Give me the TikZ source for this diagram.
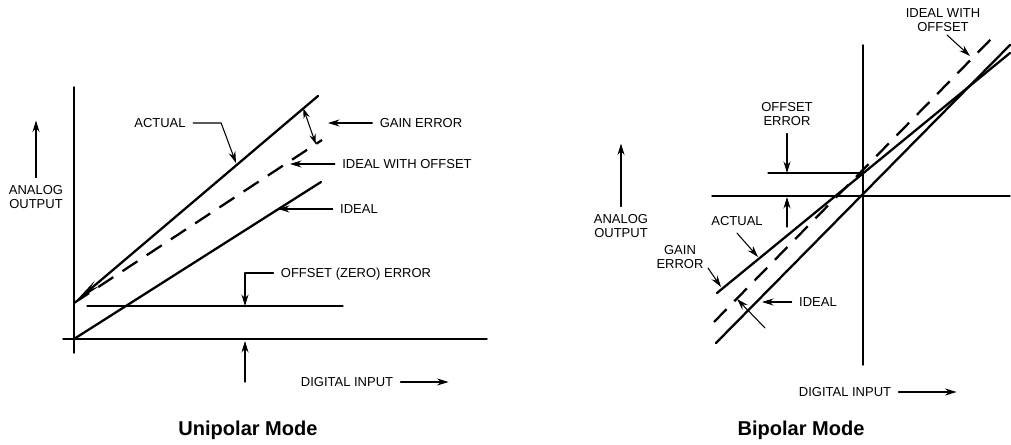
\documentclass[tikz,border=0pt]{standalone}
\usepackage{fontspec}
\setmainfont{Liberation Sans}
\usetikzlibrary{arrows.meta,calc}

\begin{document}
\begin{tikzpicture}[x=0.02cm,y=-0.02cm,line cap=round,line join=round,
  axis/.style={line width=0.8pt},
  curve/.style={line width=1.3pt},
  dashline/.style={line width=1.3pt,line cap=butt,dash pattern=on 0.36cm off 0.22cm},
  ptr/.style={line width=0.6pt,-{Stealth[length=2.3mm,width=1.4mm]}},
  dptr/.style={line width=0.6pt,{Stealth[length=2mm,width=1.3mm]}-{Stealth[length=2mm,width=1.3mm]}},
  lbl/.style={font=\fontsize{7.4}{8.4}\selectfont,inner sep=0pt,outer sep=0.15cm,align=center},
  title/.style={font=\bfseries\fontsize{11.4}{13}\selectfont}]
  \useasboundingbox (0,0) rectangle (1011,445);
  % unipolar mode
  \coordinate (uO) at (74,339); \coordinate (uT) at (74,87); \coordinate (uB) at (74,353);
  \coordinate (uL) at (63,339); \coordinate (uR) at (487,339);
  \coordinate (uA0) at (74,303); \coordinate (uA1) at (318,96);
  \coordinate (uD1) at (322,140); \coordinate (uI1) at (321,182);
  \coordinate (uZ0) at (87,306); \coordinate (uZ1) at (343,306);
  \draw[axis] (uT)--(uB); \draw[axis] (uL)--(uR); \draw[line width=0.6pt] (uZ0)--(uZ1);
  \draw[curve,{Stealth[length=0.6cm,width=0.14cm]}-] (uA0)--(uA1);
  \draw[dashline] (uA0)--(uD1); \draw[curve] (uO)--(uI1);
  \node[lbl] (uact) at (160,123) {ACTUAL};
  \node[lbl] (ugain) at (421,123) {GAIN ERROR};
  \node[lbl] (uiwo) at (407,164) {IDEAL WITH OFFSET};
  \node[lbl] (uid) at (359,209) {IDEAL};
  \node[lbl,text depth=0pt] (uzero) at (356,273) {OFFSET (ZERO) ERROR};
  \node[lbl] (uout) at (36,197) {ANALOG\\OUTPUT};
  \node[lbl] (uin) at (347,382) {DIGITAL INPUT};
  \node[title] (utitle) at (248,430) {Unipolar Mode};
  \coordinate (uActTip) at (236,163); \coordinate (uGainTip) at (328,123);
  \coordinate (uG0) at ($(uA0)!0.94!(uA1)$); \coordinate (uG1) at ($(uA0)!0.975!(uD1)$);
  \coordinate (uIwoTip) at (290,164); \coordinate (uIdTip) at (278,209);
  \coordinate (uZTip) at (245,306); \coordinate (uUp) at (245,382); \coordinate (uUpTip) at (245,341);
  \draw[ptr] (uact.east) -- ++(28,0) -- (uActTip); \draw[ptr] (ugain.west) -- (uGainTip);
  \draw[dptr] (uG0) -- (uG1);
  \draw[ptr] (uiwo.west) -- (uIwoTip); \draw[ptr] (uid.west) -- (uIdTip);
  \draw[ptr] (uzero.west) -| (uZTip); \draw[ptr] (uUp) -- (uUpTip);
  \draw[ptr] (uout.north) -- ++(0,-57); \draw[ptr] (uin.east) -- ++(48,0);
  % bipolar mode
  \coordinate (bO) at (863,196); \coordinate (bT) at (863,45); \coordinate (bB) at (863,365);
  \coordinate (bL) at (712,196); \coordinate (bR) at (1010,196);
  \coordinate (bZ0) at (768,173); \coordinate (bZ1) at (863,173);
  \coordinate (bI0) at (716,343); \coordinate (bI1) at (1010,45);
  \coordinate (bA0) at (717,293); \coordinate (bA1) at (1010,53);
  \coordinate (bD0) at (714,322); \coordinate (bD1) at (995,35);
  \draw[axis] (bT)--(bB); \draw[axis] (bL)--(bR); \draw[line width=0.6pt] (bZ0)--(bZ1);
  \draw[curve] (bI0)--(bI1); \draw[curve] (bA0)--(bA1); \draw[dashline] (bD0)--(bD1);
  \node[lbl] (boff) at (787,114) {OFFSET\\ERROR};
  \node[lbl] (bact) at (737,221) {ACTUAL};
  \node[lbl] (bgain) at (680,257) {GAIN\\ERROR};
  \node[lbl] (bid) at (818,302) {IDEAL};
  \node[lbl] (biwo) at (943,20) {IDEAL WITH\\OFFSET};
  \node[lbl] (bout) at (621,226) {ANALOG\\OUTPUT};
  \node[lbl] (bin) at (845,392) {DIGITAL INPUT};
  \node[title] (btitle) at (801,430) {Bipolar Mode};
  \coordinate (bOffTip) at (787,173); \coordinate (bUp) at (787,227); \coordinate (bUpTip) at (787,197);
  \coordinate (bActTip) at (758,257); \coordinate (bGainS) at (708,268); \coordinate (bGainTip) at (721,287);
  \coordinate (bIdTip) at (762,302); \coordinate (bGm0) at (765,328); \coordinate (bGm1) at (737,299);
  \coordinate (bIwoS) at (947,35); \coordinate (bIwoTip) at (970,56);
  \draw[ptr] (boff.south) -- (bOffTip); \draw[ptr] (bUp) -- (bUpTip);
  \draw[ptr] (bact.south) -- (bActTip); \draw[ptr] (bGainS) -- (bGainTip);
  \draw[ptr] (bid.west) -- (bIdTip); \draw[ptr] (bGm0) -- (bGm1);
  \draw[ptr] (bIwoS) -- (bIwoTip);
  \draw[ptr] (bout.north) -- ++(0,-63); \draw[ptr] (bin.east) -- ++(58,0);
\end{tikzpicture}
\end{document}
